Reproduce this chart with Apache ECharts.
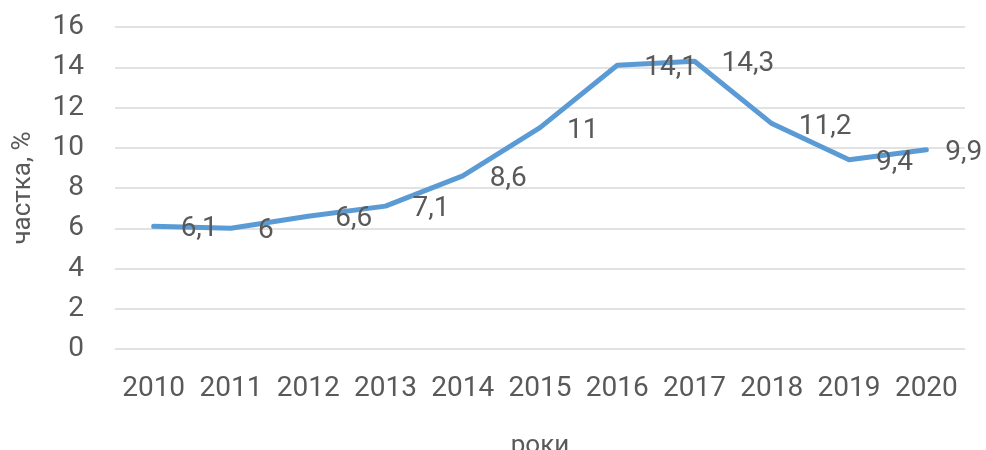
<!DOCTYPE html>
<html>
<head>
<meta charset="utf-8">
<script src="https://cdn.jsdelivr.net/npm/echarts@6/dist/echarts.min.js"></script>
<style>
  html, body { margin: 0; padding: 0; background: #fff; }
  #chart { width: 986px; height: 450px; }
</style>
</head>
<body>
<div id="chart"></div>
<script>
// роки
const years = ['2010', '2011', '2012', '2013', '2014', '2015', '2016', '2017', '2018', '2019', '2020']
// частка, %
const shares = [6.1, 6, 6.6, 7.1, 8.6, 11, 14.1, 14.3, 11.2, 9.4, 9.9]

const textColor = '#595959'
const font = 'Roboto'

const myChart = echarts.init(document.getElementById('chart'))
myChart.setOption({
  animation: false,
  grid: {
    left: 115,
    right: 21,
    top: 27,
    bottom: 101,
    containLabel: false,
    outerBoundsMode: 'none',
  },
  xAxis: {
    type: 'category',
    data: years,
    name: 'роки',
    nameLocation: 'middle',
    nameGap: 84,
    nameTextStyle: { color: textColor, fontSize: 26, fontFamily: font },
    axisLine: { show: false },
    axisTick: { show: false },
    axisLabel: { color: textColor, fontSize: 28, fontFamily: font, margin: 26, interval: 0 },
  },
  yAxis: {
    type: 'value',
    min: 0,
    max: 16,
    interval: 2,
    name: 'частка, %',
    nameLocation: 'middle',
    nameGap: 79,
    nameTextStyle: { color: textColor, fontSize: 26, fontFamily: font },
    axisLabel: { color: textColor, fontSize: 28, fontFamily: font, margin: 31 },
    splitLine: { lineStyle: { color: '#d9d9d9', width: 1.5 } },
  },
  series: [
    {
      type: 'line',
      // last label sits a bit closer, like Excel keeps it inside the chart
      data: shares.map((v, i) => (i === shares.length - 1 ? { value: v, label: { distance: 19 } } : v)),
      symbol: 'circle',
      symbolSize: 0,
      showSymbol: true,
      lineStyle: { color: '#5b9bd5', width: 5, cap: 'round', join: 'round' },
      itemStyle: { color: '#5b9bd5' },
      label: {
        show: true,
        position: 'right',
        distance: 27,
        offset: [0, 3],
        color: textColor,
        fontSize: 28,
        fontFamily: font,
        formatter: (p) => String(p.value).replace('.', ','),
      },
    },
  ],
})
</script>
</body>
</html>
